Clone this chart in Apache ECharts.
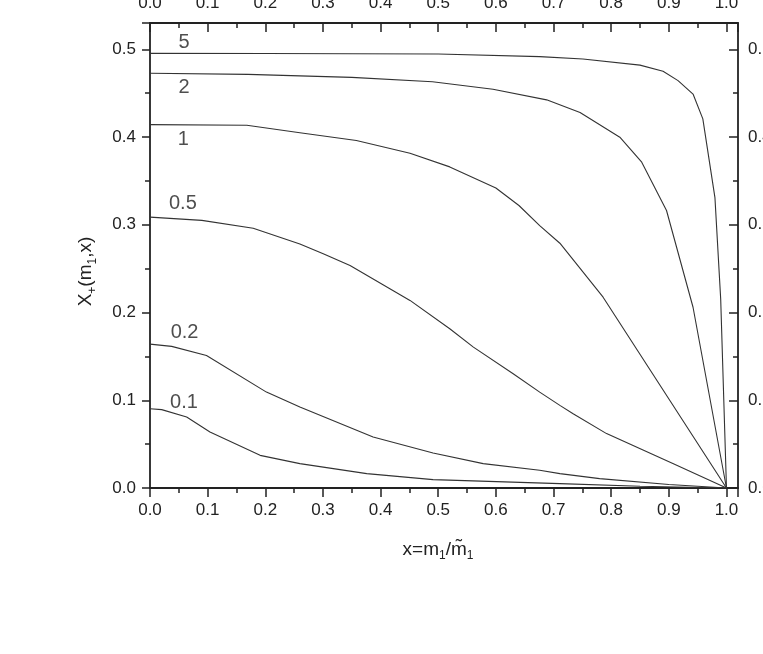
<!DOCTYPE html>
<html>
<head>
<meta charset="utf-8">
<script src="https://cdn.jsdelivr.net/npm/echarts@6/dist/echarts.min.js"></script>
<style>html,body{margin:0;padding:0;background:#fff;}#c{width:763px;height:654px;}</style>
</head>
<body>
<div id="c"></div>
<script>
// ---- data ----
const xs5 = [0, 0.2, 0.5, 0.676, 0.751, 0.85, 0.89, 0.916, 0.942, 0.959, 0.98, 0.99, 1.0];
const ys5 = [0.4954, 0.4953, 0.4947, 0.4917, 0.489, 0.482, 0.475, 0.4643, 0.449, 0.4207, 0.331, 0.215, 0];
const xs2 = [0, 0.17, 0.35, 0.49, 0.595, 0.688, 0.746, 0.815, 0.853, 0.896, 0.942, 1.0];
const ys2 = [0.4727, 0.4715, 0.468, 0.463, 0.4545, 0.4424, 0.428, 0.3998, 0.3713, 0.3163, 0.206, 0];
const xs1 = [0, 0.168, 0.26, 0.358, 0.451, 0.52, 0.6, 0.64, 0.676, 0.711, 0.786, 1.0];
const ys1 = [0.4142, 0.4134, 0.405, 0.396, 0.3815, 0.366, 0.342, 0.322, 0.299, 0.279, 0.2175, 0];
const xs05 = [0, 0.09, 0.179, 0.26, 0.3005, 0.347, 0.451, 0.52, 0.561, 0.63, 0.676, 0.711, 0.734, 0.792, 0.907, 1.0];
const ys05 = [0.3087, 0.305, 0.2961, 0.278, 0.267, 0.2536, 0.2138, 0.1815, 0.1606, 0.1303, 0.1093, 0.0942, 0.0847, 0.062, 0.0278, 0];
const xs02 = [0, 0.0376, 0.098, 0.202, 0.26, 0.387, 0.491, 0.578, 0.676, 0.711, 0.78, 0.9, 1.0];
const ys02 = [0.164, 0.1614, 0.1511, 0.1093, 0.0923, 0.0581, 0.0399, 0.0278, 0.0202, 0.0164, 0.0107, 0.004, 0];
const xs01 = [0, 0.0203, 0.0636, 0.104, 0.191, 0.26, 0.376, 0.491, 0.711, 0.85, 1.0];
const ys01 = [0.0904, 0.0893, 0.0809, 0.0638, 0.0372, 0.0278, 0.0164, 0.0096, 0.005, 0.002, 0];

const curveNames = ['5', '2', '1', '0.5', '0.2', '0.1'];
const labelX = [0.059, 0.059, 0.058, 0.057, 0.06, 0.059];
const labelY = [0.5074, 0.4568, 0.397, 0.3248, 0.1768, 0.0971];

const xTicks = [0, 0.1, 0.2, 0.3, 0.4, 0.5, 0.6, 0.7, 0.8, 0.9, 1.0];
const yTicks = [0, 0.1, 0.2, 0.3, 0.4, 0.5];

// ---- build ----
const curvesX = [xs5, xs2, xs1, xs05, xs02, xs01];
const curvesY = [ys5, ys2, ys1, ys05, ys02, ys01];
const FONT = '"Liberation Sans", Arial, sans-serif';
const INK = '#222';

function fmt(v, ticks) {
  for (const t of ticks) if (Math.abs(v - t) < 1e-6) return t.toFixed(1);
  return '';
}

const baseAxisX = {
  type: 'value', min: 0, max: 1.02, interval: 0.1,
  axisLine: { show: true, onZero: false, lineStyle: { color: INK, width: 1.8 } },
  splitLine: { show: false },
  minorTick: { show: true, splitNumber: 2, length: 5, lineStyle: { color: INK, width: 1.5 } },
  axisTick: { show: true, length: 9, lineStyle: { color: INK, width: 1.5 } },
  axisLabel: { fontFamily: FONT, fontSize: 17, color: INK, margin: 14, showMaxLabel: false,
    formatter: v => fmt(v, xTicks) }
};
const baseAxisY = {
  type: 'value', min: 0, max: 0.53, interval: 0.1,
  axisLine: { show: true, onZero: false, lineStyle: { color: INK, width: 1.8 } },
  splitLine: { show: false },
  minorTick: { show: true, splitNumber: 2, length: 5, lineStyle: { color: INK, width: 1.5 } },
  axisTick: { show: true, length: 8, lineStyle: { color: INK, width: 1.5 } },
  axisLabel: { fontFamily: FONT, fontSize: 17, color: INK, margin: 14, showMaxLabel: false,
    formatter: v => fmt(v, yTicks) }
};

const series = curvesX.map((xs, i) => ({
  type: 'line', name: curveNames[i], xAxisIndex: 0, yAxisIndex: 0,
  showSymbol: false, symbol: 'none', smooth: false, silent: true,
  lineStyle: { color: '#333', width: 1.1 },
  data: xs.map((x, k) => [x, curvesY[i][k]])
}));
series.push({
  type: 'scatter', xAxisIndex: 0, yAxisIndex: 0, symbolSize: 0, silent: true,
  label: { show: true, position: 'inside', formatter: p => p.name,
    fontFamily: FONT, fontSize: 20, color: INK },
  data: curveNames.map((n, i) => ({ name: n, value: [labelX[i], labelY[i]] }))
});

const option = {
  backgroundColor: '#fff',
  animation: false,
  grid: { left: 150, right: 25, top: 23, bottom: 166, containLabel: false, outerBoundsMode: 'none' },
  xAxis: [
    Object.assign({}, baseAxisX, {
      position: 'bottom',
      name: '{a|x=m}{s|1}{a|/m\u0303}{s|1}',
      nameLocation: 'middle', nameGap: 52,
      nameTextStyle: { padding: [0, 12, 0, 0], rich: {
        a: { fontFamily: FONT, fontSize: 19, color: INK, lineHeight: 22, verticalAlign: 'top', padding: [0, 0, 6, 0] },
        s: { fontFamily: FONT, fontSize: 12, color: INK, lineHeight: 12, verticalAlign: 'bottom' }
      } }
    }),
    Object.assign({}, baseAxisX, {
      position: 'top',
      axisTick: Object.assign({}, baseAxisX.axisTick, { inside: true }),
      minorTick: Object.assign({}, baseAxisX.minorTick, { inside: true }),
      axisLabel: Object.assign({}, baseAxisX.axisLabel, { margin: 11 })
    })
  ],
  yAxis: [
    Object.assign({}, baseAxisY, {
      position: 'left',
      name: '{a|X}{s|+}{a|(m}{s|1}{a|,x)}',
      nameLocation: 'middle', nameGap: 44,
      nameTextStyle: { padding: [0, 32, 0, 0], rich: {
        a: { fontFamily: FONT, fontSize: 19, color: INK, lineHeight: 22, verticalAlign: 'top', padding: [0, 0, 6, 0] },
        s: { fontFamily: FONT, fontSize: 12, color: INK, lineHeight: 12, verticalAlign: 'bottom' }
      } }
    }),
    Object.assign({}, baseAxisY, {
      position: 'right',
      axisTick: Object.assign({}, baseAxisY.axisTick, { inside: true, length: 9 }),
      minorTick: Object.assign({}, baseAxisY.minorTick, { inside: true }),
      axisLabel: Object.assign({}, baseAxisY.axisLabel, { margin: 10 })
    })
  ],
  series: series
};

const chart = echarts.init(document.getElementById('c'), null, { renderer: 'canvas' });
chart.setOption(option);
</script>
</body>
</html>
